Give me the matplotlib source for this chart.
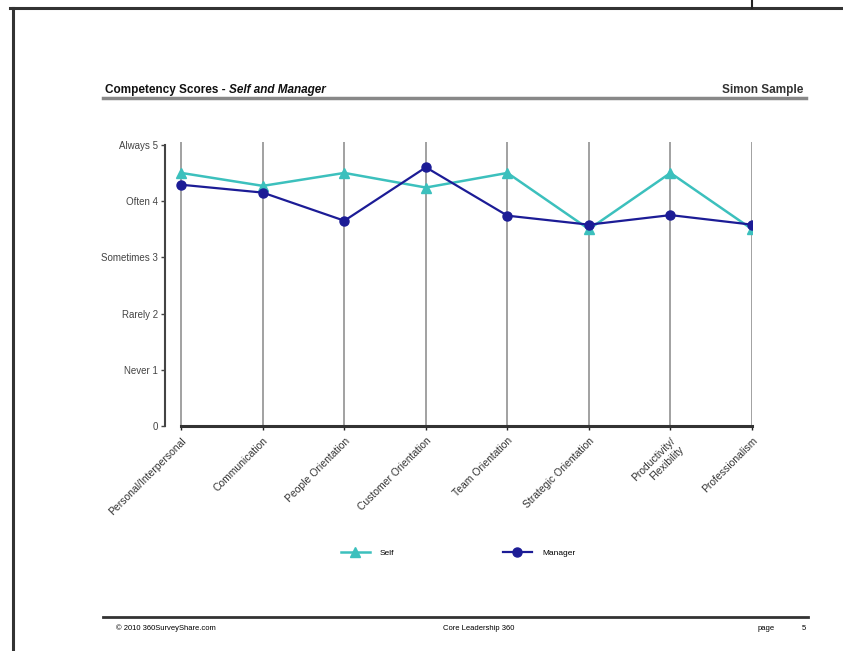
import matplotlib.pyplot as plt
from matplotlib.lines import Line2D

plt.rcParams['font.family'] = ['Liberation Sans', 'DejaVu Sans']

# Data
competencies = ["Personal/Interpersonal", "Communication", "People Orientation",
                "Customer Orientation", "Team Orientation", "Strategic Orientation",
                "Productivity/\nFlexibility", "Professionalism"]
self_scores = [4.5, 4.27, 4.5, 4.24, 4.5, 3.5, 4.5, 3.5]
manager_scores = [4.29, 4.15, 3.65, 4.6, 3.74, 3.58, 3.75, 3.58]
scale_values = [0, 1, 2, 3, 4, 5]
scale_labels = ["0", "Never 1", "Rarely 2", "Sometimes 3", "Often 4", "Always 5"]

self_color = '#3cc0bd'
manager_color = '#1c1c96'

fig = plt.figure(figsize=(8.43, 6.51), dpi=100)

# page border (scanned report page)
fig.add_artist(Line2D([0.012, 1.0], [0.9877, 0.9877], color='#333333', lw=2.2))
fig.add_artist(Line2D([0.0154, 0.0154], [0.0, 0.9877], color='#333333', lw=2.2))
fig.add_artist(Line2D([0.892, 0.892], [0.9877, 1.0], color='#222222', lw=1.5))

# header: plain part, then the italic part right after it
t = fig.text(105 / 843, 1 - 90 / 651, "Competency Scores - ", fontsize=8.5, fontweight='bold',
             va='center', ha='left', color='#111111')
fig.canvas.draw()
bb = t.get_window_extent().transformed(fig.transFigure.inverted())
fig.text(bb.x1, 1 - 90 / 651, "Self and Manager", fontsize=8.5, fontweight='bold',
         style='italic', va='center', ha='left', color='#111111')
fig.text(803 / 843, 1 - 90 / 651, "Simon Sample", fontsize=8.5, fontweight='bold',
         va='center', ha='right', color='#333333')
fig.add_artist(Line2D([103 / 843, 806 / 843], [1 - 98 / 651, 1 - 98 / 651], color='#888888', lw=2.5))

# footer
fig.add_artist(Line2D([103 / 843, 808 / 843], [1 - 617 / 651, 1 - 617 / 651], color='#333333', lw=2))
fig.text(116 / 843, 1 - 628 / 651, "\u00a9 2010 360SurveyShare.com", fontsize=5.5, va='center', ha='left')
fig.text(443 / 843, 1 - 628 / 651, "Core Leadership 360", fontsize=5.5, va='center', ha='left')
fig.text(758 / 843, 1 - 628 / 651, "page", fontsize=5.5, va='center', ha='left')
fig.text(806 / 843, 1 - 628 / 651, "5", fontsize=5.5, va='center', ha='right')

# chart
ax = fig.add_axes([165 / 843, 1 - 426 / 651, (752 - 165) / 843, (426 - 142) / 651])
x = range(len(competencies))
for xi in x:
    ax.axvline(xi, color='#9a9a9a', lw=1.3, zorder=0)

ax.plot(x, self_scores, color=self_color, lw=1.8, marker='^', markersize=7,
        label='Self', zorder=3)
ax.plot(x, manager_scores, color=manager_color, lw=1.6, marker='o', markersize=6.5,
        label='Manager', zorder=4)

ax.set_xlim(-0.2, 7.0)
ax.set_ylim(0, 5.05)
ax.set_yticks(scale_values)
ax.set_yticklabels(scale_labels, fontsize=7, color='#444444')
ax.set_xticks(list(x))
ax.set_xticklabels(competencies, rotation=45, ha='right', va='top',
                   rotation_mode='anchor', fontsize=7.5, color='#333333')

for side in ['top', 'right']:
    ax.spines[side].set_visible(False)
ax.spines['left'].set_bounds(0, 5)
ax.spines['left'].set_color('#444444')
ax.spines['left'].set_linewidth(1.5)
ax.spines['bottom'].set_bounds(0, 7)
ax.spines['bottom'].set_color('#333333')
ax.spines['bottom'].set_linewidth(2.2)
ax.tick_params(axis='y', length=3, width=1, color='#444444', pad=2)
ax.tick_params(axis='x', length=3, width=1, color='#222222', pad=4)

leg = fig.legend(loc='center', bbox_to_anchor=(458 / 843, 1 - 553 / 651), ncol=2,
                 frameon=False, fontsize=6, columnspacing=13, handlelength=3.5,
                 handletextpad=1.2)

fig.savefig('out.png', dpi=100, facecolor='white')
